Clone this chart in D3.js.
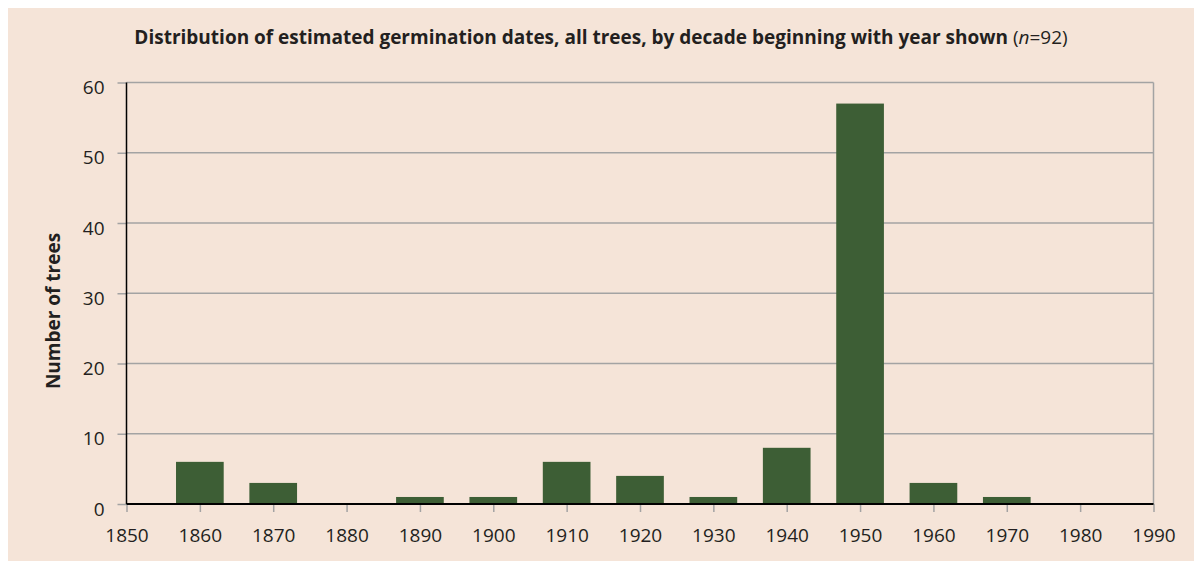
<!DOCTYPE html>
<html>
<head>
<meta charset="utf-8">
<script src="https://cdn.jsdelivr.net/npm/d3@7"></script>
<style>
  html, body { margin: 0; padding: 0; background: #ffffff; }
  svg { display: block; font-family: "Open Sans", "Noto Sans", sans-serif; }
</style>
</head>
<body>
<svg id="chart" width="1194" height="561" viewBox="0 0 1194 561"></svg>
<script>
// decades (start year) and number of trees germinated in each
const decades = [1860, 1870, 1880, 1890, 1900, 1910, 1920, 1930, 1940, 1950, 1960, 1970, 1980];
const counts = [6, 3, 0, 1, 1, 6, 4, 1, 8, 57, 3, 1, 0];
const xTicks = [1850, 1860, 1870, 1880, 1890, 1900, 1910, 1920, 1930, 1940, 1950, 1960, 1970, 1980, 1990];
const yTicks = [0, 10, 20, 30, 40, 50, 60];

const svgEl = d3.select("#chart");
const margins = { left: 126.5, right: 40.5, top: 82.5, bottom: 57 };
const svgWidth = 1194, svgHeight = 561;
const width = svgWidth - margins.left - margins.right;
const height = svgHeight - margins.top - margins.bottom;

// beige panel
svgEl.append("rect")
  .attr("x", 8).attr("y", 8)
  .attr("width", svgWidth - 8).attr("height", svgHeight - 8)
  .attr("fill", "#f5e4d8");

const xScale = d3.scaleLinear().domain([1850, 1990]).range([0, width]);
const yScale = d3.scaleLinear().domain([0, 60]).range([height, 0]);
const step = xScale(1860) - xScale(1850);
const barW = step * 0.65;

const g = svgEl.append("g")
  .attr("transform", `translate(${margins.left} ${margins.top})`);

// gridlines
g.append("g")
  .selectAll("line")
  .data(yTicks.filter((d) => d > 0))
  .enter()
  .append("line")
  .attr("x1", 0).attr("x2", width)
  .attr("y1", (d) => yScale(d)).attr("y2", (d) => yScale(d))
  .style("stroke", "#a3a3a3")
  .style("stroke-width", 1.5);

// right border
g.append("line")
  .attr("x1", width).attr("x2", width)
  .attr("y1", 0).attr("y2", height)
  .style("stroke", "#a3a3a3")
  .style("stroke-width", 1.5);

// bars
g.append("g")
  .selectAll("rect")
  .data(decades.map((d, i) => ({ decade: d, value: counts[i] })))
  .enter()
  .append("rect")
  .attr("x", (d) => xScale(d.decade) - barW / 2)
  .attr("y", (d) => yScale(d.value))
  .attr("width", barW)
  .attr("height", (d) => yScale(0) - yScale(d.value))
  .attr("fill", "#3d5e35");

// y axis
const yAxis = d3.axisLeft(yScale).tickValues(yTicks).tickSize(9).tickPadding(13);
const yAxisG = g.append("g").call(yAxis);
yAxisG.select("path").remove();
yAxisG.selectAll("line").style("stroke", "#a3a3a3").style("stroke-width", 1.5);
yAxisG.selectAll("text")
  .attr("dy", "0.58em")
  .style("font-size", "19px")
  .style("fill", "#231f20")
  .style("font-family", "'Open Sans', sans-serif");
g.append("line")
  .attr("x1", 0).attr("x2", 0)
  .attr("y1", 0).attr("y2", height)
  .style("stroke", "#000")
  .style("stroke-width", 1.5);

// x axis
const xAxis = d3.axisBottom(xScale).tickValues(xTicks).tickFormat(d3.format("d")).tickSize(8).tickPadding(17);
const xAxisG = g.append("g")
  .attr("transform", `translate(0 ${height})`)
  .call(xAxis);
xAxisG.select("path").remove();
xAxisG.selectAll("line").style("stroke", "#a3a3a3").style("stroke-width", 1.5);
xAxisG.selectAll("text")
  .style("font-size", "19px")
  .style("fill", "#231f20")
  .style("font-family", "'Open Sans', sans-serif");
g.append("line")
  .attr("x1", 0).attr("x2", width)
  .attr("y1", height).attr("y2", height)
  .style("stroke", "#000")
  .style("stroke-width", 2);

// title
const title = svgEl.append("text")
  .attr("x", 601)
  .attr("y", 44)
  .attr("text-anchor", "middle")
  .style("font-size", "19px")
  .style("fill", "#231f20");
title.append("tspan")
  .style("font-weight", 700)
  .text("Distribution of estimated germination dates, all trees, by decade beginning with year shown ");
title.append("tspan").text("(");
title.append("tspan").style("font-style", "italic").text("n");
title.append("tspan").text("=92)");

// y axis title
svgEl.append("text")
  .attr("transform", "translate(60 311) rotate(-90)")
  .attr("text-anchor", "middle")
  .style("font-size", "19px")
  .style("font-weight", 700)
  .style("fill", "#231f20")
  .text("Number of trees");
</script>
</body>
</html>
